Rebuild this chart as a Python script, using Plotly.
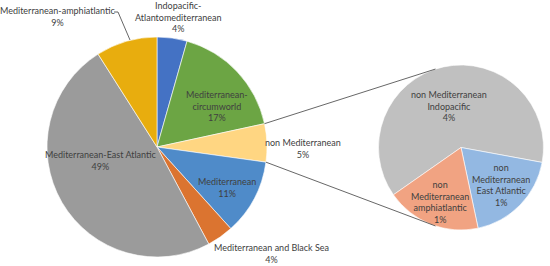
import math
import plotly.graph_objects as go

# ---- data ----
main_labels = ["Indopacific-Atlantomediterranean", "Mediterranean-circumworld", "non Mediterranean",
               "Mediterranean", "Mediterranean and Black Sea", "Mediterranean-East Atlantic",
               "Mediterranean-amphiatlantic"]
main_values = [4.4, 17.2, 5.6, 11.1, 3.9, 48.8, 9.0]
main_pct_text = ["4%", "17%", "5%", "11%", "4%", "49%", "9%"]
main_colors = ["#4472C4", "#6CA544", "#FFD682", "#4F8BC9", "#DB7430", "#9B9B9B", "#E8AD0E"]

sub_labels = ["non Mediterranean Indopacific", "non Mediterranean East Atlantic",
              "non Mediterranean amphiatlantic"]
sub_values = [3.5, 1.05, 1.04]
sub_pct_text = ["4%", "1%", "1%"]
sub_colors = ["#C0C0C0", "#93B8E2", "#F1A382"]

W, H = 550, 266
# layout geometry (pixels)
C1 = (157, 147); R1 = 110
C2 = (461, 147.5); R2 = 82.5
SUB_ROT = 235

def dom(c, r):
    return dict(x=[(c[0] - r) / W, (c[0] + r) / W],
                y=[(H - c[1] - r) / H, (H - c[1] + r) / H])

fig = go.Figure()
fig.add_trace(go.Pie(labels=main_labels, values=main_values, sort=False, direction="clockwise",
                     rotation=0, marker=dict(colors=main_colors, line=dict(color="white", width=0.6)),
                     textinfo="none", hoverinfo="label+percent", showlegend=False, domain=dom(C1, R1)))
fig.add_trace(go.Pie(labels=sub_labels, values=sub_values, sort=False, direction="clockwise",
                     rotation=SUB_ROT, marker=dict(colors=sub_colors, line=dict(color="white", width=0.6)),
                     textinfo="none", hoverinfo="label+percent", showlegend=False, domain=dom(C2, R2)))

def pt(c, r, ang):
    a = math.radians(ang)
    return c[0] + r * math.sin(a), c[1] - r * math.cos(a)

tot = sum(main_values)
start = sum(main_values[:2]) / tot * 360
end = sum(main_values[:3]) / tot * 360
p1 = pt(C1, R1, start); p2 = pt(C1, R1, end)
q1 = pt(C2, R2, 342); q2 = pt(C2, R2, 198)
line_style = dict(color="#404040", width=0.8)
shapes = [
    dict(type="line", xref="x", yref="y", x0=p1[0], y0=p1[1], x1=q1[0], y1=q1[1], line=line_style),
    dict(type="line", xref="x", yref="y", x0=p2[0], y0=p2[1], x1=q2[0], y1=q2[1], line=line_style),
    dict(type="path", xref="x", yref="y", path="M 114 12 L 118 12 L 130 40", line=line_style),
]

label_text = [
    ("Indopacific-<br>Atlantomediterranean<br>" + main_pct_text[0], 178, 17),
    ("Mediterranean-<br>circumworld<br>" + main_pct_text[1], 217, 106),
    ("non Mediterranean<br>" + main_pct_text[2], 303, 148.5),
    ("Mediterranean<br>" + main_pct_text[3], 227, 187.5),
    ("Mediterranean and Black Sea<br>" + main_pct_text[4], 271, 253),
    ("Mediterranean-East Atlantic<br>" + main_pct_text[5], 101, 160.5),
    ("Mediterranean-amphiatlantic<br>" + main_pct_text[6], 58, 16),
    ("non Mediterranean<br>Indopacific<br>" + sub_pct_text[0], 449, 106),
    ("non<br>Mediterranean<br>East Atlantic<br>" + sub_pct_text[1], 501, 184.5),
    ("non<br>Mediterranean<br>amphiatlantic<br>" + sub_pct_text[2], 440, 201.5),
]
annotations = [dict(text=t, x=x, y=y, xref="x", yref="y", showarrow=False,
                    font=dict(family="Lato", size=9, color="#404040"),
                    xanchor="center", yanchor="middle", align="center")
               for t, x, y in label_text]

fig.update_layout(
    width=W, height=H, margin=dict(l=0, r=0, t=0, b=0),
    paper_bgcolor="white", plot_bgcolor="rgba(0,0,0,0)",
    xaxis=dict(range=[0, W], visible=False, fixedrange=True, domain=[0, 1]),
    yaxis=dict(range=[H, 0], visible=False, fixedrange=True, domain=[0, 1]),
    shapes=shapes, annotations=annotations,
)
fig.write_html("out.html", config={"displayModeBar": False},
               post_script="document.body.style.margin='0';")
